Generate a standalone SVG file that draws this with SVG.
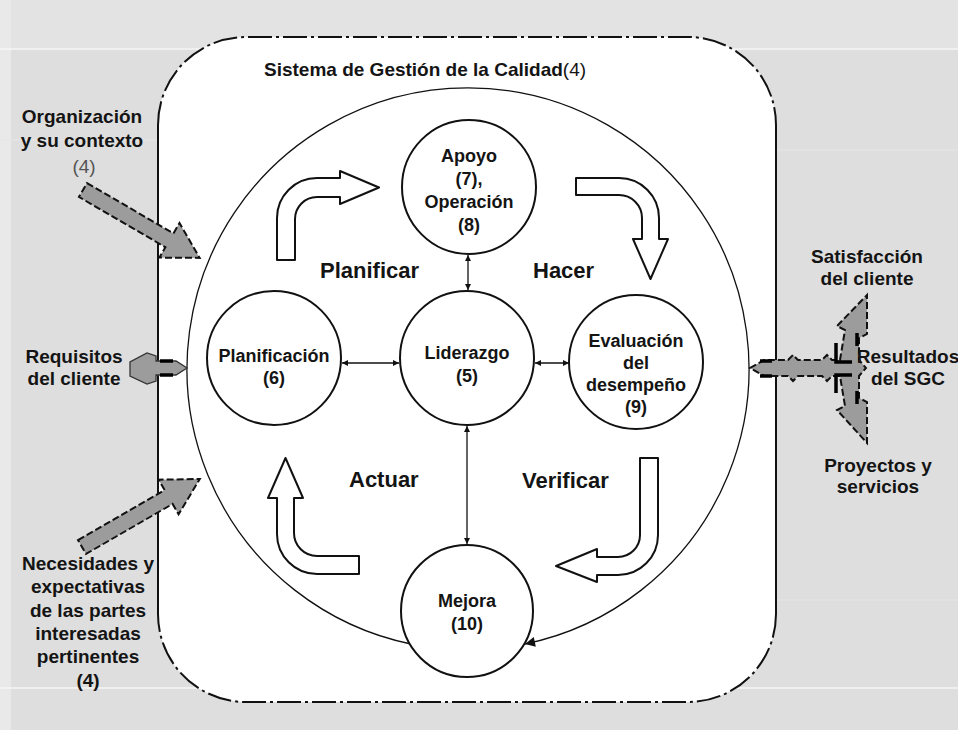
<svg xmlns="http://www.w3.org/2000/svg" width="958" height="730" viewBox="0 0 958 730">
<defs>
<style>
.t{font-family:"Liberation Sans",Arial,sans-serif;font-weight:bold;fill:#141414;}
.c{font-size:18px;text-anchor:middle;}
.l{font-size:19px;text-anchor:middle;}
.p{font-size:22px;}
.node{fill:#fff;stroke:#111;stroke-width:2;}
.block{fill:#fff;stroke:#111;stroke-width:2;stroke-linejoin:round;}
.gray{fill:#9c9c9c;stroke:#111;stroke-width:2;stroke-dasharray:7 3;stroke-linejoin:miter;}
.dd{fill:none;stroke:#111;stroke-width:2;stroke-dasharray:24 4 3 4;}
.thin{fill:none;stroke:#111;stroke-width:1.3;}
.mark{stroke:#000;stroke-width:3.5;fill:none;}
</style>
<marker id="sm" viewBox="0 0 10 10" refX="10" refY="5" markerWidth="6" markerHeight="6" orient="auto-start-reverse" markerUnits="userSpaceOnUse">
<path d="M0,0 L10,5 L0,10 Z" fill="#111"/>
</marker>
<marker id="big" viewBox="0 0 10 10" refX="10" refY="5" markerWidth="14" markerHeight="10" orient="auto" markerUnits="userSpaceOnUse">
<path d="M0,0 L10,5 L0,10 Z" fill="#111"/>
</marker>
</defs>

<g id="background">
<rect x="0" y="0" width="958" height="730" fill="#dedede"/>
<rect x="0" y="0" width="958" height="48" fill="#e3e3e3"/>
<rect x="0" y="0" width="11" height="730" fill="#e9e9e9"/>
<line x1="0" y1="49" x2="958" y2="49" stroke="#f6f6f6" stroke-width="1.5"/>
<line x1="0" y1="688" x2="958" y2="688" stroke="#f6f6f6" stroke-width="1.5"/>
<line x1="0" y1="140" x2="158" y2="140" stroke="#e6e6e6" stroke-width="1"/>
<line x1="776" y1="150" x2="958" y2="150" stroke="#e6e6e6" stroke-width="1"/>
<line x1="776" y1="600" x2="958" y2="600" stroke="#e6e6e6" stroke-width="1"/>
</g>

<g id="sgc-frame">
<rect x="158" y="37" width="618" height="665" rx="88" ry="88" fill="#fff"/>
<path class="dd" d="M158,125 A88,88 0 0 1 246,37 L688,37 A88,88 0 0 1 776,125"/>
<path class="dd" d="M776,614 A88,88 0 0 1 688,702 L246,702 A88,88 0 0 1 158,614"/>
<path d="M158,125 L158,614 M776,125 L776,614" fill="none" stroke="#111" stroke-width="2"/>
<text class="t" x="264" y="76" font-size="19">Sistema de Gestión de la Calidad<tspan font-weight="normal">(4)</tspan></text>
</g>

<g id="connectors">
<path class="thin" stroke-width="1.8" d="M411,644 A281,281 0 1 1 525,644" marker-end="url(#big)"/>
<line class="thin" x1="468" y1="255" x2="468" y2="290" marker-start="url(#sm)" marker-end="url(#sm)"/>
<line class="thin" x1="467" y1="426" x2="467" y2="544" marker-start="url(#sm)" marker-end="url(#sm)"/>
<line class="thin" x1="342" y1="363" x2="399" y2="363" marker-start="url(#sm)" marker-end="url(#sm)"/>
<line class="thin" x1="535" y1="363" x2="569" y2="363" marker-start="url(#sm)" marker-end="url(#sm)"/>
</g>

<g id="cycle-arrows">
<path class="block" d="M277,260 L277,218 A40,40 0 0 1 317,178 L340,178 L340,171 L379,187.5 L340,204 L340,197 L317,197 A22,22 0 0 0 295,219 L295,260 Z"/>
<path class="block" d="M576,178 L619,178 A40,40 0 0 1 659,218 L659,239 L668,239 L650.5,279 L633,239 L642,239 L642,218 A23,23 0 0 0 619,195 L576,195 Z"/>
<path class="block" d="M640,458 L658,458 L658,535 A40,40 0 0 1 618,575 L597,575 L597,582 L556,566 L597,549 L597,557 L618,557 A22,22 0 0 0 640,535 Z"/>
<path class="block" d="M359,556 L317,556 A23,23 0 0 1 294,533 L294,498 L303,498 L285.5,458 L268,498 L277,498 L277,534 A40,40 0 0 0 317,574 L359,574 Z"/>
<text class="t p" x="320" y="278">Planificar</text>
<text class="t p" x="533" y="278">Hacer</text>
<text class="t p" x="349" y="487">Actuar</text>
<text class="t p" x="522" y="488">Verificar</text>
</g>

<g id="node-apoyo">
<circle class="node" cx="469" cy="187" r="67"/>
<text class="t c" x="469" y="162">Apoyo</text>
<text class="t c" x="469" y="185">(7),</text>
<text class="t c" x="469" y="208">Operación</text>
<text class="t c" x="469" y="231">(8)</text>
</g>

<g id="node-planificacion">
<circle class="node" cx="274" cy="358" r="67"/>
<text class="t c" x="274" y="362">Planificación</text>
<text class="t c" x="274" y="384">(6)</text>
</g>

<g id="node-liderazgo">
<circle class="node" cx="467" cy="358" r="67"/>
<text class="t c" x="467" y="359">Liderazgo</text>
<text class="t c" x="467" y="382">(5)</text>
</g>

<g id="node-evaluacion">
<circle class="node" cx="636" cy="362" r="67"/>
<text class="t c" x="636" y="347">Evaluación</text>
<text class="t c" x="636" y="369">del</text>
<text class="t c" x="636" y="391">desempeño</text>
<text class="t c" x="636" y="413">(9)</text>
</g>

<g id="node-mejora">
<circle class="node" cx="467" cy="611" r="66"/>
<text class="t c" x="467" y="607">Mejora</text>
<text class="t c" x="467" y="630">(10)</text>
</g>

<g id="input-organizacion">
<text class="t l" x="82" y="123">Organización</text>
<text class="t l" x="82" y="147">y su contexto</text>
<text class="l" x="84" y="173" font-family="Liberation Sans, Arial, sans-serif" fill="#555">(4)</text>
<polygon class="gray" transform="translate(83,190) rotate(30.2)" points="0,-8 100,-8 100,-20 135,0 100,20 100,8 0,8"/>
</g>

<g id="input-requisitos">
<text class="t l" x="74" y="363">Requisitos</text>
<text class="t l" x="74" y="385">del cliente</text>
<path d="M130,362 L130,376 L147,384 L156,381 L156,375 L176,375 L187,368 L176,361 L156,361 L156,356 L147,353 Z" fill="#9c9c9c" stroke="#333" stroke-width="1.3"/>
<path class="mark" d="M160,361 L173,361 M160,375 L173,375"/>
</g>

<g id="input-necesidades">
<polygon class="gray" transform="translate(82,547) rotate(-30)" points="0,-8 100,-8 100,-20 136,0 100,20 100,8 0,8"/>
<text class="t l" x="88" y="570">Necesidades y</text>
<text class="t l" x="88" y="593">expectativas</text>
<text class="t l" x="88" y="617">de las partes</text>
<text class="t l" x="88" y="640">interesadas</text>
<text class="t l" x="88" y="663">pertinentes</text>
<text class="t l" x="88" y="687">(4)</text>
</g>

<g id="output-resultados">
<path class="gray" d="M750,368 L764,360 L788,360 L793,355 L798,360 L822,360 L827,355 L832,360 L840,360 L845,330 L837,326 L867,295 L867,334 L859,338 L859,360 L866,368 L859,376 L859,398 L867,402 L867,443 L837,410 L845,406 L840,376 L832,376 L827,381 L822,376 L798,376 L793,381 L788,376 L764,376 Z"/>
<path class="mark" d="M760,361 L772,361 M760,376 L772,376 M836,343 L836,362 L852,362 M836,393 L836,375 L852,375 M857,333 L857,346 M857,391 L857,404"/>
<text class="t l" x="867" y="263">Satisfacción</text>
<text class="t l" x="867" y="285">del cliente</text>
<text class="t l" x="908" y="363">Resultados</text>
<text class="t l" x="908" y="385">del SGC</text>
<text class="t l" x="878" y="472">Proyectos y</text>
<text class="t l" x="878" y="493">servicios</text>
</g>
</svg>
